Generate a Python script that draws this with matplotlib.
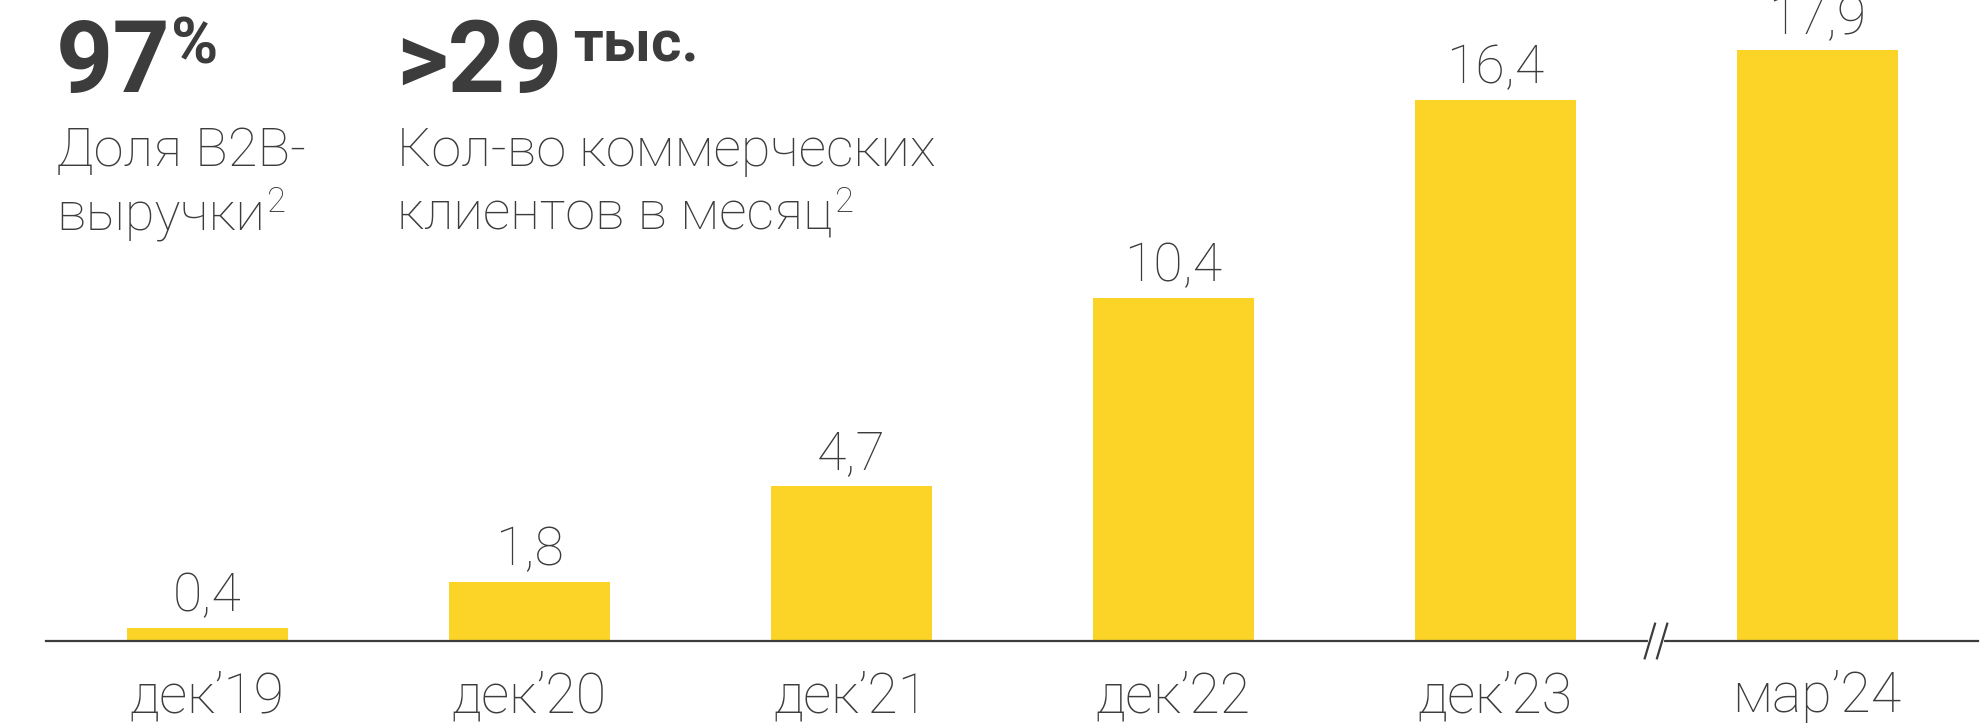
import matplotlib
matplotlib.use("Agg")
import matplotlib.pyplot as plt
from matplotlib.transforms import blended_transform_factory

# Кол-во коммерческих клиентов в месяц, тыс.
periods = ["дек’19", "дек’20", "дек’21", "дек’22", "дек’23", "мар’24"]
clients = [0.4, 1.8, 4.7, 10.4, 16.4, 17.9]
value_labels = ["0,4", "1,8", "4,7", "10,4", "16,4", "17,9"]

YELLOW = "#FCD327"
DARK = "#3c3c3c"
FONT = ["Roboto", "DejaVu Sans"]

W, H = 1987, 724
fig = plt.figure(figsize=(W / 100, H / 100), dpi=100)
fig.patch.set_facecolor("white")
renderer = fig.canvas.get_renderer()


def fpos(xp, yp):
    # пиксели от левого верхнего угла -> доли фигуры
    return xp / W, 1 - yp / H


def txt(xp, yp, s, size, weight):
    return fig.text(*fpos(xp, yp), s, fontsize=size, fontweight=weight,
                    color=DARK, family=FONT, va="baseline")


def after(t, gap, yp, s, size, weight):
    # ставит текст сразу справа от уже нарисованного t
    x1 = t.get_window_extent(renderer).x1
    return txt(x1 + gap, yp, s, size, weight)


ax = fig.add_axes([46 / W, 83 / H, (1978 - 46) / W, 641 / H])
pos = list(range(len(clients)))
ax.bar(pos, clients, width=0.5, color=YELLOW, zorder=2)
ax.set_xlim(-0.5, 5.5)
ax.set_ylim(0, 641 / 33)

for s in ["top", "left", "right"]:
    ax.spines[s].set_visible(False)
ax.spines["bottom"].set_color(DARK)
ax.spines["bottom"].set_linewidth(1.6)
ax.set_yticks([])
ax.set_xticks(pos, periods)
ax.tick_params(axis="x", length=0, pad=21, labelsize=40, labelcolor=DARK)
for t in ax.get_xticklabels():
    t.set_family(FONT)
    t.set_fontweight("light")

for xi, v, lab in zip(pos, clients, value_labels):
    ax.annotate(lab, (xi, v), xytext=(0, 12), textcoords="offset points",
                ha="center", va="baseline", fontsize=38.5, color=DARK,
                family=FONT, fontweight="light", annotation_clip=False)

# разрыв оси между дек'23 и мар'24
tr = blended_transform_factory(ax.transData, ax.transAxes)
ax.plot([4.481, 4.519], [0, 0], color="white", lw=3, transform=tr,
        clip_on=False, zorder=5)
for cx in (4.481, 4.519):
    ax.plot([cx - 0.016, cx + 0.016], [-0.027, 0.027], color=DARK, lw=1.6,
            transform=tr, clip_on=False, zorder=6)

# заголовочные показатели
t97 = txt(56, 92, "97", 72, "bold")
after(t97, 0, 63, "%", 46, "bold")
txt(56, 166, "Доля B2B-", 39, "light")
t = txt(56, 230, "выручки", 39, "light")
after(t, 2, 212, "2", 25, "light")

t29 = txt(396, 92, ">29", 72, "bold")
after(t29, 11, 61, "тыс.", 42, "bold")
txt(397, 166, "Кол-во коммерческих", 39, "light")
t = txt(397, 230, "клиентов в месяц", 39, "light")
after(t, 2, 212, "2", 25, "light")

fig.savefig("out.png", dpi=100)
plt.close(fig)
